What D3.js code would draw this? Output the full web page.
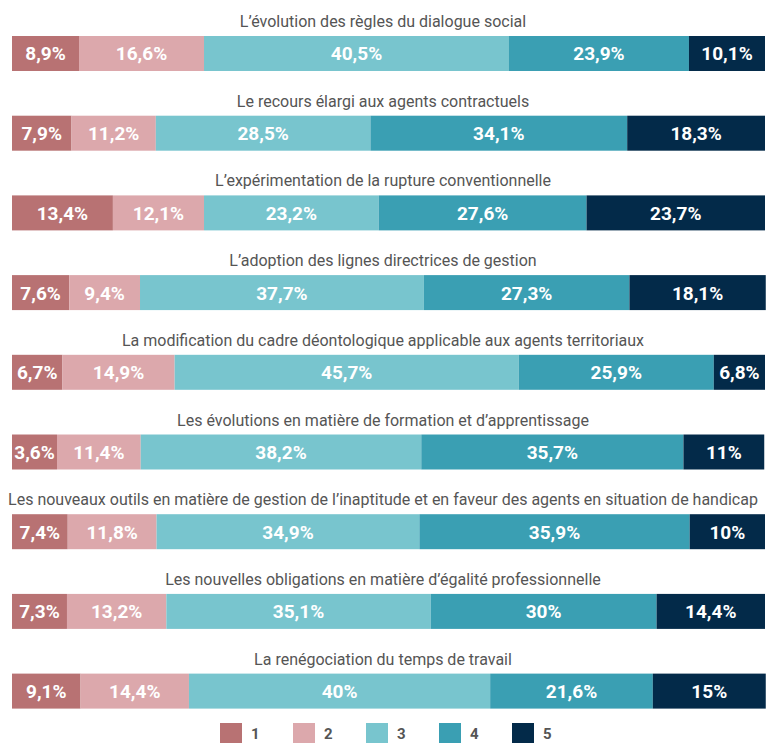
<!DOCTYPE html>
<html>
<head>
<meta charset="utf-8">
<script src="https://cdn.jsdelivr.net/npm/d3@7"></script>
<style>
  body { margin: 0; background: #fff; }
  svg { display: block; font-family: Roboto, "Noto Sans", sans-serif; }
</style>
</head>
<body>
<svg id="chart"></svg>
<script>
var categories = [
    "L\u2019évolution des règles du dialogue social",
    "Le recours élargi aux agents contractuels",
    "L\u2019expérimentation de la rupture conventionnelle",
    "L\u2019adoption des lignes directrices de gestion",
    "La modification du cadre déontologique applicable aux agents territoriaux",
    "Les évolutions en matière de formation et d\u2019apprentissage",
    "Les nouveaux outils en matière de gestion de l\u2019inaptitude et en faveur des agents en situation de handicap",
    "Les nouvelles obligations en matière d\u2019égalité professionnelle",
    "La renégociation du temps de travail"
];
var levels = ["1", "2", "3", "4", "5"];
var score1 = [8.9, 7.9, 13.4, 7.6, 6.7, 3.6, 7.4, 7.3, 9.1];
var score2 = [16.6, 11.2, 12.1, 9.4, 14.9, 11.4, 11.8, 13.2, 14.4];
var score3 = [40.5, 28.5, 23.2, 37.7, 45.7, 38.2, 34.9, 35.1, 40];
var score4 = [23.9, 34.1, 27.6, 27.3, 25.9, 35.7, 35.9, 30, 21.6];
var score5 = [10.1, 18.3, 23.7, 18.1, 6.8, 11, 10, 14.4, 15];
var colors = ["#b87273", "#dca8ac", "#78c5ce", "#3a9fb3", "#032a49"];

var W = 766, H = 743;
var minSeg = 45; // smallest segment keeps room for its label
var svg = d3.select("#chart").attr("width", W).attr("height", H);

var scores = [score1, score2, score3, score4, score5];
var x = d3.scaleLinear().domain([0, 100]).range([12, 765]);
var y = d3.scaleBand().domain(categories).range([36, 708.6]).paddingInner(0.561).paddingOuter(0);
var color = d3.scaleOrdinal().domain(levels).range(colors);
var fmt = function (v) { return String(v).replace(".", ",") + "%"; };

// segments per row, from the scale, small ones widened to minSeg
var segs = [];
categories.forEach(function (cat, i) {
    var vals = scores.map(s => s[i]);
    var w = vals.map(v => x(v) - x(0));
    var small = w.filter(d => d < minSeg);
    var extra = d3.sum(small, d => minSeg - d);
    var big = d3.sum(w.filter(d => d >= minSeg));
    var k = (big - extra) / big;
    var x0 = x(0);
    vals.forEach(function (v, j) {
        var ww = w[j] < minSeg ? minSeg : w[j] * k;
        segs.push({ cat: cat, key: levels[j], v: v, x0: x0, w: ww });
        x0 += ww;
    });
});

// titles
svg.append("g").selectAll("text")
    .data(categories)
    .join("text")
    .attr("x", W / 2)
    .attr("y", d => y(d) - 9)
    .attr("text-anchor", "middle")
    .attr("fill", "#555")
    .attr("font-size", 16)
    .text(d => d);

svg.append("g").selectAll("rect")
    .data(segs)
    .join("rect")
    .attr("x", d => d.x0)
    .attr("y", d => y(d.cat))
    .attr("width", d => d.w)
    .attr("height", y.bandwidth())
    .attr("fill", d => color(d.key));

svg.append("g").selectAll("text")
    .data(segs)
    .join("text")
    .attr("x", d => d.x0 + d.w / 2)
    .attr("y", d => y(d.cat) + y.bandwidth() / 2 + 7)
    .attr("text-anchor", "middle")
    .attr("fill", "#fff")
    .attr("font-size", 19)
    .attr("font-weight", "bold")
    .text(d => fmt(d.v));

// legend
var lx = d3.scalePoint().domain(levels).range([220, 512]);
var legend = svg.append("g").selectAll("g")
    .data(levels)
    .join("g")
    .attr("transform", d => `translate(${lx(d)}, 723)`);
legend.append("rect")
    .attr("width", 22)
    .attr("height", 20)
    .attr("fill", d => color(d));
legend.append("text")
    .attr("x", 31)
    .attr("y", 16)
    .attr("fill", "#555")
    .attr("font-size", 15)
    .attr("font-weight", "bold")
    .text(d => d);
</script>
</body>
</html>
